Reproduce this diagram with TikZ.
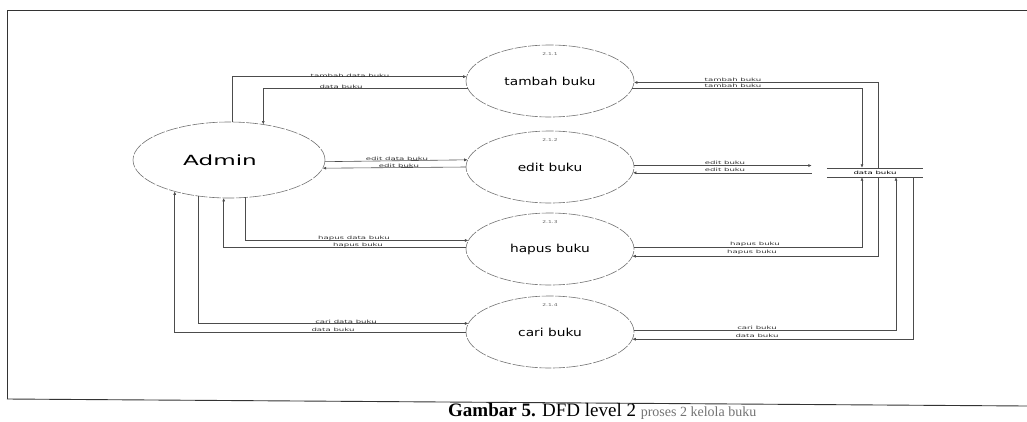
\documentclass[tikz,border=0pt]{standalone}
\usepackage{fontspec}
\setmainfont{DejaVu Sans}
\newfontfamily\capfont{Liberation Serif}
\usetikzlibrary{shapes.geometric,arrows.meta,calc}
\newcommand{\lb}[1]{\scalebox{1.9}[1]{#1}}

\begin{document}
\begin{tikzpicture}[x=1pt,y=-1pt,
  proc/.style={ellipse, draw=black!55, line width=0.6pt, dash pattern=on 12pt off 1.5pt,
    minimum width=168pt, minimum height=72pt, inner sep=0pt, outer sep=0pt,
    font=\fontsize{11}{13}\selectfont},
  ent/.style={ellipse, draw=black!55, line width=0.6pt, dash pattern=on 12pt off 1.5pt,
    minimum width=192pt, minimum height=76pt, inner sep=0pt, outer sep=0pt,
    font=\fontsize{14}{16}\selectfont},
  flow/.style={draw=black!70, line width=0.6pt, -{Latex[length=3.5pt,width=3pt]}},
  lbl/.style={font=\fontsize{4.5}{5}\selectfont, inner sep=0.6pt, anchor=south, text=black!80},
  pid/.style={font=\fontsize{4}{5}\selectfont, text=black!60},
  frame/.style={draw=black!80, line width=0.9pt}]
\useasboundingbox (0,0) rectangle (1027,421);

% page frame
\draw[frame] (7,399) -- (7,10) -- (1027,10);
\draw[frame] (7,399) -- (1027,406);

% external entity and processes
\node[ent] (admin) at (229,160) {\hspace*{-18pt}\scalebox{1.65}[1]{Admin}};
\node[proc] (tambah) at (550,81) {\scalebox{1.25}[1]{tambah buku}};
\node[proc] (edit) at (550,167) {\scalebox{1.25}[1]{edit buku}};
\node[proc] (hapus) at (550,249) {\scalebox{1.25}[1]{hapus buku}};
\node[proc] (cari) at (550,332) {\scalebox{1.25}[1]{cari buku}};
\node[pid] (n1) at ($(tambah)+(0,-27)$) {\scalebox{1.5}[1]{2.1.1}};
\node[pid] (n2) at ($(edit)+(0,-27)$) {\scalebox{1.5}[1]{2.1.2}};
\node[pid] (n3) at ($(hapus)+(0,-27)$) {\scalebox{1.5}[1]{2.1.3}};
\node[pid] (n4) at ($(cari)+(0,-27)$) {\scalebox{1.5}[1]{2.1.4}};

% data store
\node[inner sep=0pt, minimum width=96pt, minimum height=9pt, font=\fontsize{4.5}{5}\selectfont]
  (store) at (875,172.5) {\lb{data buku}};
\draw[black!70, line width=0.6pt] (store.north west) -- (store.north east)
  (store.south west) -- (store.south east);

% flows between Admin and the processes
\draw[flow] (admin.85.5) |- (tambah.177.9);
\draw[flow] (tambah.185.6) -| (admin.46.2);
\draw[flow] (admin.359.4) -- (edit.175.9);
\draw[flow] (edit.180.7) -- (admin.355.1);
\draw[flow] (admin.294.4) |- (hapus.174.4);
\draw[flow] (hapus.179.3) -| (admin.262.5);
\draw[flow] (admin.230.3) |- (cari.174.4);
\draw[flow] (cari.180) -| (admin.210.9);

% flows between the processes and the data store
\draw[flow] (tambah.355.1) -| ([xshift=-13pt]store.north);
\draw[flow] ([xshift=3pt]store.north) |- (tambah.359.3);
\draw[flow] (edit.1.4) -- ($(edit.1.4 -| store.west)+(-15,0)$);
\draw[flow] ($(edit.356.6 -| store.west)+(-15,0)$) -- (edit.356.6);
\draw[flow] (hapus.1.4) -| ([xshift=-13pt]store.south);
\draw[flow] ([xshift=3pt]store.south) |- (hapus.355.9);
\draw[flow] (cari.1.4) -| ([xshift=21pt]store.south);
\draw[flow] ([xshift=38pt]store.south) |- (cari.355.9);

% flow labels
\node[lbl] (t1) at (350,78) {\lb{tambah data buku}};
\node[lbl] (t2) at (341,89) {\lb{data buku}};
\node[lbl] (e1) at (397,161) {\lb{edit data buku}};
\node[lbl] (e2) at (399,168) {\lb{edit buku}};
\node[lbl] (h1) at (354,241) {\lb{hapus data buku}};
\node[lbl] (h2) at (358,248) {\lb{hapus buku}};
\node[lbl] (c1) at (346,324) {\lb{cari data buku}};
\node[lbl] (c2) at (333,332) {\lb{data buku}};
\node[lbl] (t3) at (733,82) {\lb{tambah buku}};
\node[lbl] (t4) at (733,88) {\lb{tambah buku}};
\node[lbl] (e3) at (725,165) {\lb{edit buku}};
\node[lbl] (e4) at (725,172) {\lb{edit buku}};
\node[lbl] (h3) at (755,247) {\lb{hapus buku}};
\node[lbl] (h4) at (752,255) {\lb{hapus buku}};
\node[lbl] (c3) at (757,330) {\lb{cari buku}};
\node[lbl] (c4) at (757,338) {\lb{data buku}};

% caption
\node[anchor=base west, inner sep=0pt, font=\capfont\fontsize{19}{21}\selectfont] (cap) at (448,416)
  {\textbf{Gambar 5.} DFD level 2 {\fontsize{14}{16}\selectfont\color{black!55} proses 2 kelola buku}};
\end{tikzpicture}
\end{document}
